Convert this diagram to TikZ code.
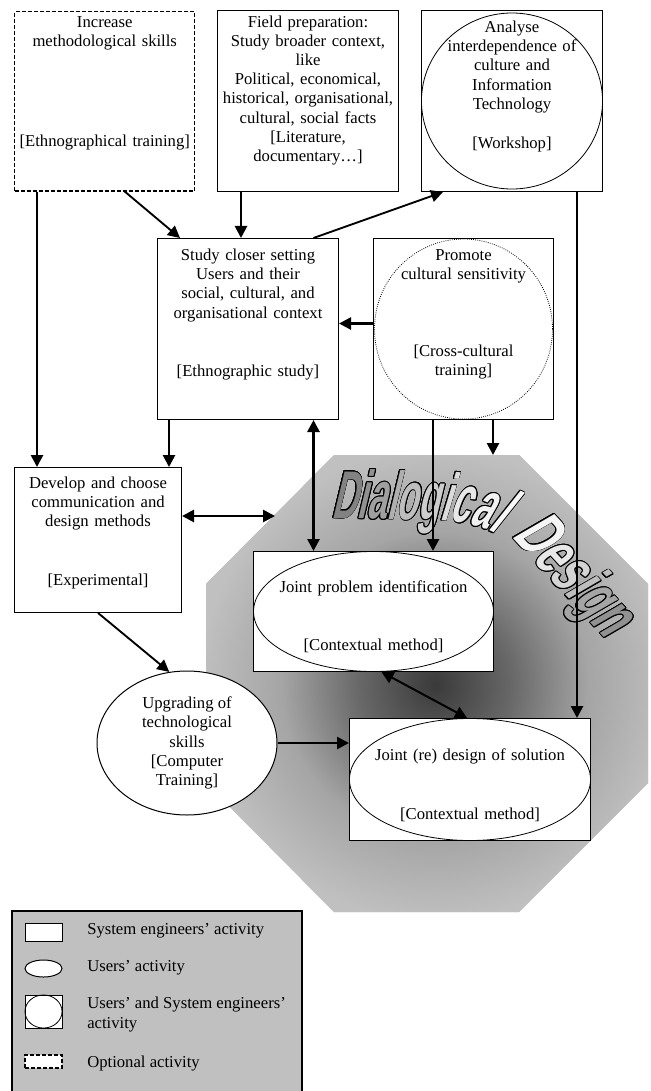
\documentclass[tikz,border=0pt]{standalone}
\usepackage{fontspec}
\setmainfont{Liberation Serif}
\newfontfamily\artfont{Liberation Sans}[FakeStretch=0.52,FakeSlant=0.22]
\newfontfamily\artfontwide{Liberation Sans}[FakeStretch=0.62,FakeSlant=0.22]
\usepackage{contour}
\contourlength{0.6pt}
\usetikzlibrary{arrows.meta,calc,shapes.geometric,decorations.text}

\definecolor{panelgray}{RGB}{192,192,192}
\definecolor{centergray}{RGB}{58,58,58}
\definecolor{midgray}{RGB}{104,104,104}
\definecolor{lightgray}{RGB}{165,165,165}

\definecolor{arta0}{RGB}{130,130,130}
\definecolor{arta1}{RGB}{130,130,130}
\definecolor{arta2}{RGB}{145,145,145}
\definecolor{arta3}{RGB}{160,160,160}
\definecolor{arta4}{RGB}{175,175,175}
\definecolor{arta5}{RGB}{190,190,190}
\definecolor{arta6}{RGB}{205,205,205}
\definecolor{arta7}{RGB}{220,220,220}
\definecolor{arta8}{RGB}{232,232,232}
\definecolor{arta9}{RGB}{242,242,242}
\definecolor{arta10}{RGB}{248,248,248}
\definecolor{arta11}{RGB}{248,248,248}
\definecolor{artb0}{RGB}{245,245,245}
\definecolor{artb1}{RGB}{245,245,245}
\definecolor{artb2}{RGB}{232,232,232}
\definecolor{artb3}{RGB}{212,212,212}
\definecolor{artb4}{RGB}{190,190,190}
\definecolor{artb5}{RGB}{165,165,165}
\definecolor{artb6}{RGB}{145,145,145}
\definecolor{artb7}{RGB}{145,145,145}

\pgfdeclareradialshading{octashade}{\pgfpoint{0bp}{0bp}}{color(0bp)=(centergray); color(6.5bp)=(midgray); color(13bp)=(lightgray); color(20bp)=(panelgray); color(50bp)=(panelgray)}

\newcommand{\artstyle}{\artfont\bfseries\fontsize{51}{51}\selectfont}
\newcommand{\artstylewide}{\artfontwide\bfseries\fontsize{51}{51}\selectfont}
\newcommand{\artchar}[1]{\contour{black}{\textcolor{arta\ci}{#1}}}
\newcommand{\artcharb}[1]{\contour{black}{\textcolor{artb\ci}{#1}}}

\tikzset{
	activity/.style={draw=black, line width=0.75pt, fill=white, rectangle, anchor=north west, inner xsep=2pt, inner ysep=0pt, align=center},
	optional/.style={activity, line width=1.1pt, dash pattern=on 3pt off 1.5pt},
	users/.style={draw=black, line width=0.75pt, fill=white, ellipse, inner sep=0pt, align=center},
	flow/.style={-{Triangle[length=9pt,width=9pt]}, line width=2pt},
	thinflow/.style={-{Triangle[length=9pt,width=9pt]}, line width=1.4pt},
	twoway/.style={{Triangle[length=9pt,width=9pt]}-{Triangle[length=9pt,width=9pt]}, line width=2pt}
}

\begin{document}
\begin{tikzpicture}[x=0.75pt, y=-0.75pt, font=\fontsize{12.5}{14.4}\selectfont]
	\useasboundingbox (0,0) rectangle (650,1091);

	\path[fill=panelgray, path picture={\shade[shading=octashade] (435,685) circle (295);}]
		(334,455) -- (519,455) -- (648,584) -- (648,783) -- (519,912) -- (334,912) -- (206,783) -- (206,584) -- cycle;
	\coordinate (dd-top) at (493,455);
	\coordinate (dd-left) at (275,516);

	\path[font=\artstyle, decorate, decoration={text effects along path, text={Dialogical},
		text effects/.cd, text along path, character count=\ci, character command=\artchar,
		character widths={font=\artstyle, inner xsep=0pt}, characters={font=\artstyle, inner sep=0pt}}]
		(331,518) -- (435,520) .. controls (462,521) and (487,526) .. (506,541);
	\path[font=\artstylewide, decorate, decoration={text effects along path, text={Design},
		text effects/.cd, text along path, character count=\ci, character command=\artcharb,
		character widths={font=\artstylewide, inner xsep=0pt}, characters={font=\artstylewide, inner sep=0pt}}]
		(511,536) -- (612,646);

	\node[optional, text width=131pt, text height=11.8pt, text depth=122.5pt] (incr) at (14,11) {Increase\\methodological skills\\[60.7pt]{}[Ethnographical training]};
	\node[activity, text width=131.75pt, text height=12.5pt, text depth=123.2pt] (field) at (217,10) {Field preparation:\\Study broader context,\\like\\Political, economical,\\historical, organisational,\\cultural, social facts\\{}[Literature,\\documentary…]};
	\node[activity, text width=131.75pt, text height=16.5pt, text depth=119.25pt] (culture) at (421,10) {Analyse\\interdependence of\\culture and\\Information\\Technology\\[15pt]{}[Workshop]};
	\node[activity, text width=131.75pt, text height=16.5pt, text depth=119.25pt] (setting) at (157,238) {Study closer setting\\Users and their\\social, cultural, and\\organisational context\\[29.2pt]{}[Ethnographic study]};
	\node[activity, text width=131pt, text height=16.3pt, text depth=119.5pt] (sensitivity) at (373,238) {Promote\\cultural sensitivity\\[43.2pt]{}[Cross-cultural\\training]};
	\node[activity, text width=121.25pt, text height=15.5pt, text depth=93.2pt] (methods) at (14,467) {Develop and choose\\communication and\\design methods\\[29.8pt]{}[Experimental]};
	\node[activity, text width=176pt, text height=30.5pt, text depth=59.5pt] (problem) at (253,551) {Joint problem identification\\[29.3pt]{}[Contextual method]};
	\node[activity, text width=176.75pt, text height=31.5pt, text depth=60pt] (solution) at (349,718) {Joint (re) design of solution\\[29.7pt]{}[Contextual method]};
	\node[users, minimum width=135pt, minimum height=108pt] (upgrade) at (187,743) {Upgrading of\\technological\\skills\\{}[Computer\\Training]};

	\draw[line width=0.6pt] (culture.center) ellipse [x radius=67.9pt, y radius=66pt];
	\draw[line width=0.6pt, densely dotted] (sensitivity.center) ellipse [x radius=66.75pt, y radius=67.5pt];
	\draw[line width=0.6pt] (problem.center) ellipse [x radius=90pt, y radius=45pt];
	\draw[line width=0.6pt] (solution.center) ellipse [x radius=90.4pt, y radius=45.75pt];

	\draw[flow] ($(incr.south west)+(23,0)$) -- ($(methods.north west)+(23,0)$);
	\draw[thinflow] ($(incr.south)+(20,0)$) -- ($(setting.north west)+(23,0)$);
	\draw[flow] ($(field.south west)+(24,0)$) -- ($(setting.north west)+(84,0)$);
	\draw[thinflow] ($(setting.north west)+(156.5,0)$) -- ($(culture.south west)+(22,0)$);
	\draw[flow] ($(culture.south west)+(156,0)$) -- ($(solution.north west)+(228,0)$);
	\draw[flow] ($(sensitivity.west)+(0,-5.5)$) -- ($(setting.east)+(0,-5.5)$);
	\draw[flow] ($(setting.south west)+(12,0)$) -- ($(methods.north west)+(155,0)$);
	\draw[twoway] ($(setting.south west)+(156.5,0)$) -- ($(problem.north west)+(60.5,0)$);
	\draw[flow] ($(sensitivity.south west)+(60,0)$) -- ($(problem.north west)+(180,0)$);
	\draw[flow] ($(sensitivity.south west)+(120,0)$) -- (dd-top);
	\draw[twoway] ($(methods.north east)+(0,49)$) -- (dd-left);
	\draw[twoway, line width=1.5pt] ($(problem.south)+(8,0)$) -- ($(solution.north)+(-3,0)$);
	\draw[thinflow] (methods.south) -- (upgrade.104);
	\draw[flow] (upgrade.east) -- (upgrade.east -| solution.west);

	\draw[line width=1.4pt, fill=panelgray] (12,911) rectangle (302,1100);
	\node[activity, anchor=center, minimum width=27.75pt, minimum height=13.5pt] (key-sys) at (43.5,932) {};
	\node[users, minimum width=27.75pt, minimum height=12.75pt] (key-usr) at (43.5,968.5) {};
	\node[activity, anchor=center, minimum width=27.75pt, minimum height=24.75pt] (key-both) at (43.5,1011.5) {};
	\draw[line width=0.6pt] (key-both.center) ellipse [x radius=13.9pt, y radius=12.4pt];
	\node[optional, anchor=center, minimum width=27.75pt, minimum height=9.75pt] (key-opt) at (43.5,1061.5) {};
	\node[anchor=west, inner sep=0pt] (txt-sys) at (87,931) {System engineers’ activity};
	\node[anchor=west, inner sep=0pt] (txt-usr) at (87,968) {Users’ activity};
	\node[anchor=west, inner sep=0pt, align=left] (txt-both) at (87,1014.5) {Users’ and System engineers’\\activity};
	\node[anchor=west, inner sep=0pt] (txt-opt) at (87,1064) {Optional activity};
\end{tikzpicture}
\end{document}
